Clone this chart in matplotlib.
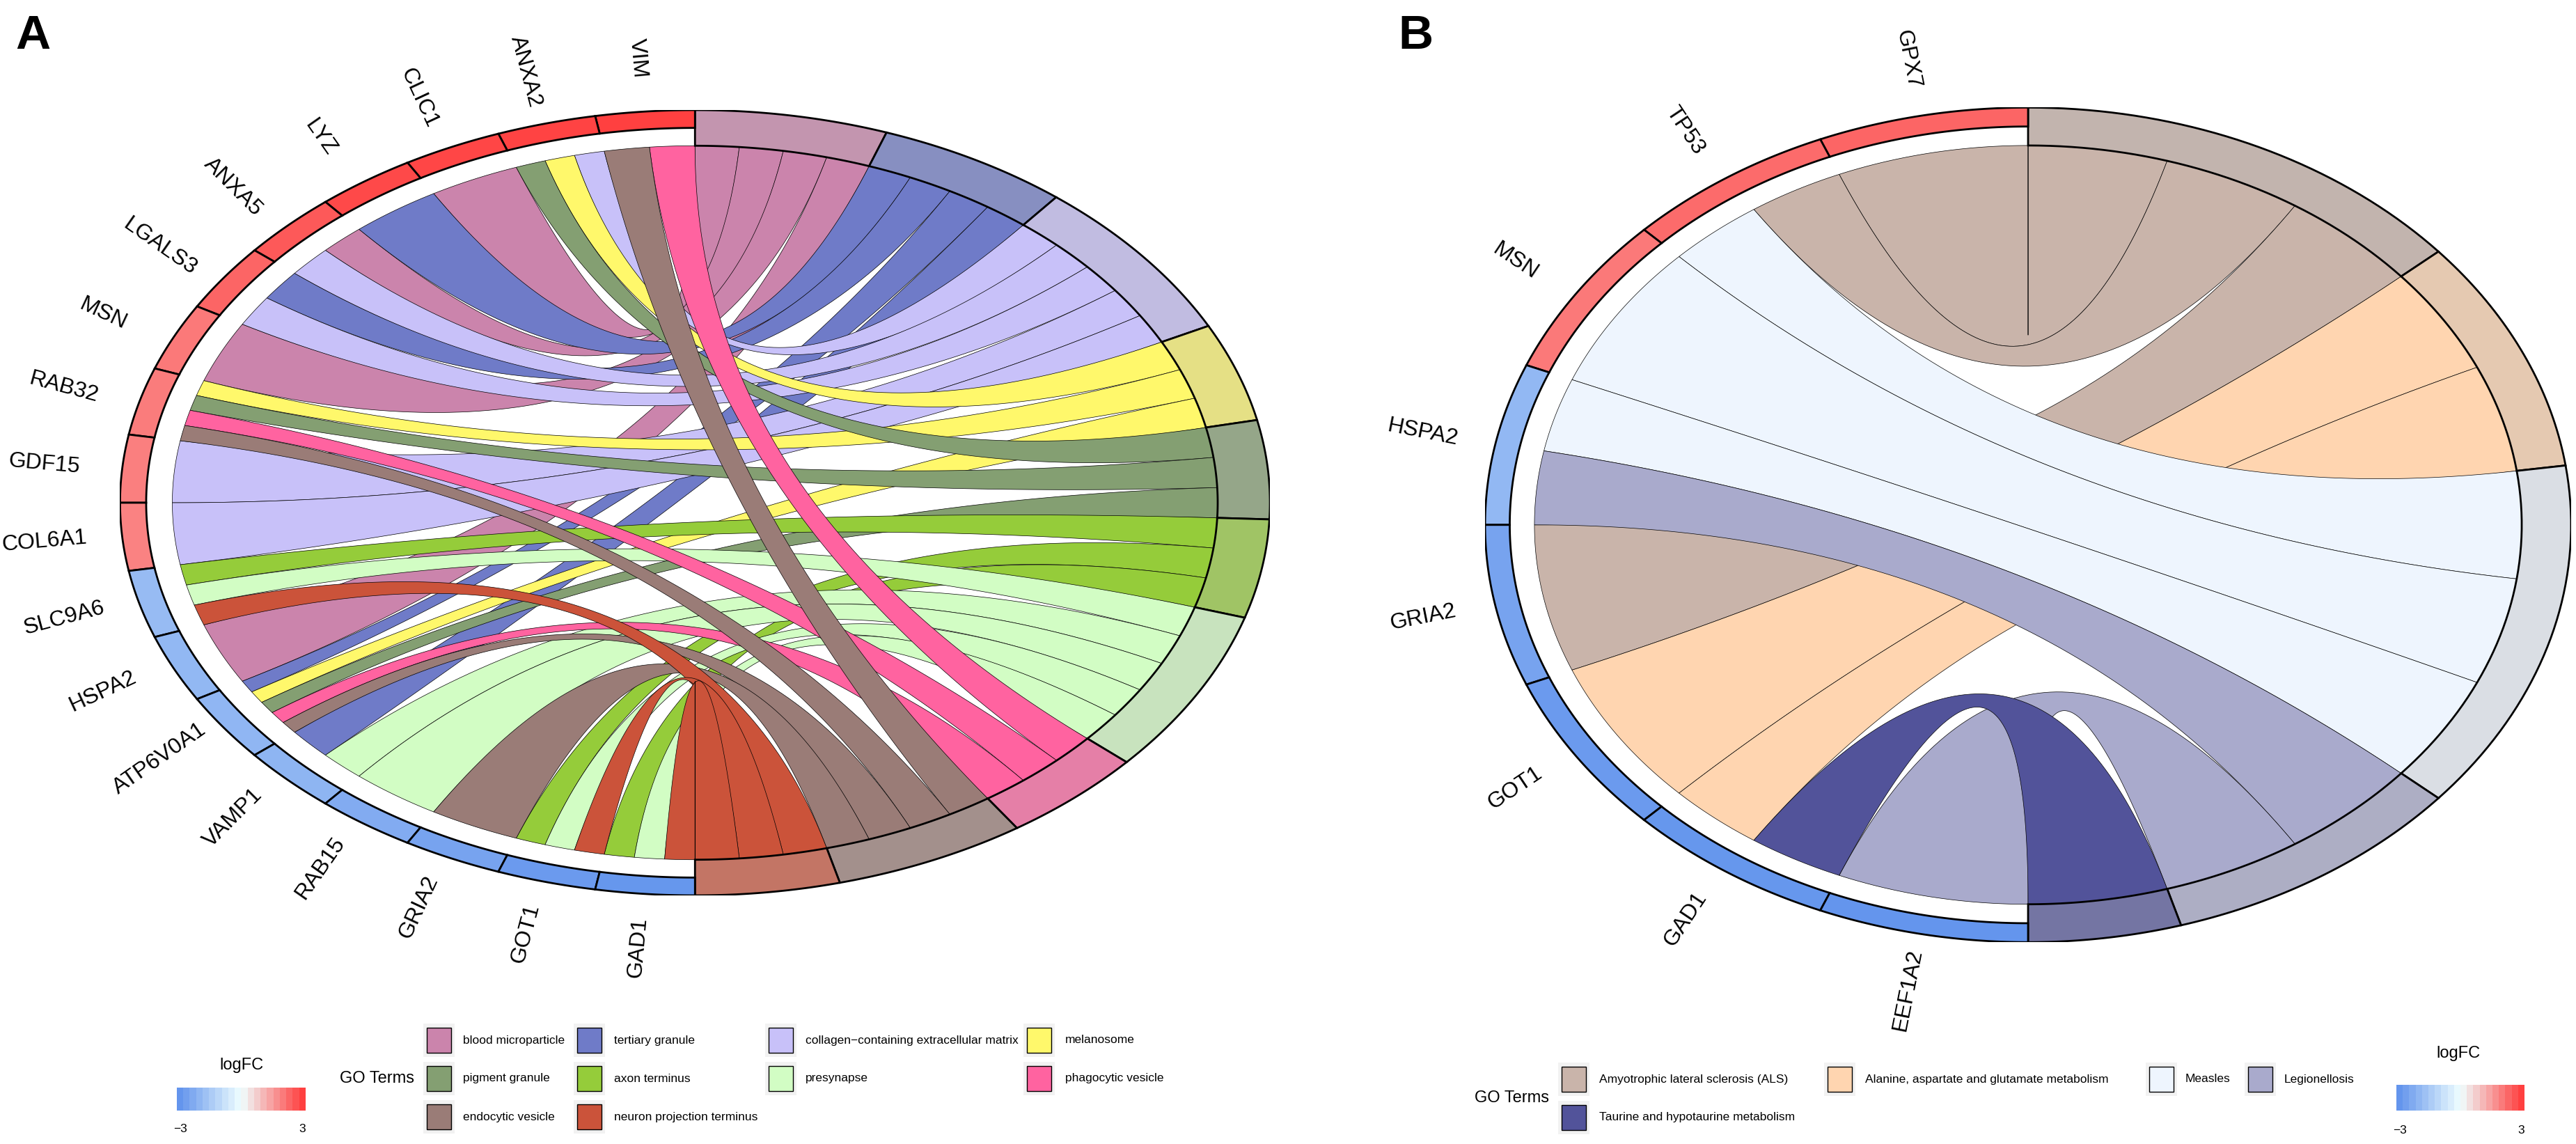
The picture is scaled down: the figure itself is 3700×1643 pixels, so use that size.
import numpy as np
import matplotlib
matplotlib.use("Agg")
import matplotlib.pyplot as plt
from matplotlib.patches import Polygon, Rectangle
from matplotlib.colors import LinearSegmentedColormap, Normalize, to_rgb

# ---------------- panel A data ----------------
genes_a = ["VIM", "ANXA2", "CLIC1", "LYZ", "ANXA5", "LGALS3", "MSN", "RAB32",
           "GDF15", "COL6A1", "SLC9A6", "HSPA2", "ATP6V0A1", "VAMP1", "RAB15",
           "GRIA2", "GOT1", "GAD1"]
logfc_a = [3.0, 2.95, 2.9, 2.85, 2.6, 2.4, 2.1, 2.05, 2.0, 1.95,
           -1.9, -2.0, -2.05, -2.1, -2.35, -2.6, -2.85, -2.95]
terms_a = ["blood microparticle", "tertiary granule",
           "collagen\u2212containing extracellular matrix", "melanosome",
           "pigment granule", "axon terminus", "presynapse",
           "phagocytic vesicle", "endocytic vesicle", "neuron projection terminus"]
term_cols_a = ["#CB84AC", "#6F7BC8", "#C8C1F9", "#FFF86B", "#849F72",
               "#95CC3A", "#D2FDC4", "#FF63A0", "#9A7C77", "#CB533A"]
# term indices linked to each gene (same order as genes_a)
members_a = [[7, 8], [2, 3, 4], [0], [1], [0, 2], [1, 2], [0], [3, 4, 7, 8],
             [2], [2], [5, 6, 9], [0], [1, 3, 4, 7, 8], [1, 6], [6], [8],
             [5, 6, 9], [5, 6, 9]]

# ---------------- panel B data ----------------
genes_b = ["GPX7", "TP53", "MSN", "HSPA2", "GRIA2", "GOT1", "GAD1", "EEF1A2"]
logfc_b = [2.4, 2.3, 2.1, -2.0, -2.6, -2.85, -2.95, -3.0]
terms_b = ["Amyotrophic lateral sclerosis (ALS)",
           "Alanine, aspartate and glutamate metabolism", "Measles",
           "Legionellosis", "Taurine and hypotaurine metabolism"]
term_cols_b = ["#C9B4AA", "#FFD5B0", "#EEF5FE", "#A9AACC", "#52539A"]
members_b = [[0], [0, 2], [2], [2, 3], [0], [1], [1, 4], [3]]

plt.rcParams["font.family"] = ["Liberation Sans", "DejaVu Sans"]

lfc_cmap = LinearSegmentedColormap.from_list(
    "lfc", ["#6495ED", "#F0FFFF", "#FF4040"])
lfc_norm = Normalize(-3, 3)


def blend(c, w=0.65, grey=0.706):
    r = np.array(to_rgb(c))
    return tuple(w * r + (1 - w) * grey)


def pol(a, r=1.0):
    t = np.radians(a)
    return np.array([r * np.cos(t), r * np.sin(t)])


def arc(r, a0, a1, n=40):
    t = np.radians(np.linspace(a0, a1, n))
    return np.column_stack([r * np.cos(t), r * np.sin(t)])


def bez(p0, p2, n=80):
    # quadratic bezier with the control point in the centre
    t = np.linspace(0, 1, n)[:, None]
    return (1 - t) ** 2 * p0 + t ** 2 * p2


def draw_chord(ax, genes, logfc, terms, term_cols, members):
    sizes = [sum(t in m for m in members) for t in range(len(terms))]
    unit = 180.0 / sum(sizes)
    gstep = 180.0 / len(genes)
    t_start = []
    a = 90.0
    for s in sizes:
        t_start.append(a)
        a -= s * unit

    slot = [0] * len(terms)
    links = []
    for gi, mem in enumerate(members):
        g0 = 90 + gi * gstep
        w = gstep / len(mem)
        for k, t in enumerate(mem):
            ga, gb = g0 + k * w, g0 + (k + 1) * w
            tb = t_start[t] - slot[t] * unit
            ta = tb - unit
            slot[t] += 1
            links.append((t, ga, gb, ta, tb))

    for t, ga, gb, ta, tb in sorted(links, key=lambda l: l[0]):
        pts = np.vstack([arc(1, ga, gb), bez(pol(gb), pol(ta)),
                         arc(1, ta, tb), bez(pol(tb), pol(ga))])
        ax.add_patch(Polygon(pts, closed=True, fc=term_cols[t],
                             ec="black", lw=0.5, zorder=2))

    # term blocks
    for t, s in enumerate(sizes):
        a1 = t_start[t]
        a0 = a1 - s * unit
        pts = np.vstack([arc(1.0, a0, a1), arc(1.1, a1, a0)])
        ax.add_patch(Polygon(pts, closed=True, fc=blend(term_cols[t]),
                             ec="black", lw=2.0, zorder=3))

    # gene ring + labels
    for gi, g in enumerate(genes):
        a0 = 90 + gi * gstep
        a1 = a0 + gstep
        pts = np.vstack([arc(1.05, a0, a1), arc(1.1, a1, a0)])
        ax.add_patch(Polygon(pts, closed=True,
                             fc=lfc_cmap(lfc_norm(logfc[gi])),
                             ec="black", lw=2.0, zorder=3))
        am = (a0 + a1) / 2
        x, y = pol(am, 1.25)
        ax.text(x, y, g, rotation=am - 180, rotation_mode="anchor",
                ha="center", va="center", fontsize=23)

    ax.set_xlim(-1.1, 1.1)
    ax.set_ylim(-1.1, 1.1)
    ax.axis("off")


W, H = 3700, 1643
fig = plt.figure(figsize=(W / 100, H / 100), dpi=100)

ax_a = fig.add_axes([0.0466, 0.2173, 0.4464, 0.6865])
draw_chord(ax_a, genes_a, logfc_a, terms_a, term_cols_a, members_a)
ax_b = fig.add_axes([0.5765, 0.1764, 0.4216, 0.7296])
draw_chord(ax_b, genes_b, logfc_b, terms_b, term_cols_b, members_b)

# overlay in pixel units for legends and panel letters
lax = fig.add_axes([0, 0, 1, 1], zorder=-1)
lax.set_xlim(0, W)
lax.set_ylim(H, 0)
lax.axis("off")

lax.text(22, 20, "A", fontsize=50, fontweight="bold", va="top", ha="left")
lax.text(2008, 20, "B", fontsize=50, fontweight="bold", va="top", ha="left")


def go_legend(terms, cols, rows_y, key_x, text_x, title_xy):
    lax.text(title_xy[0], title_xy[1], "GO Terms", fontsize=17,
             ha="right", va="center")
    for i, (name, c) in enumerate(zip(terms, cols)):
        r, k = divmod(i, 4)
        x, y = key_x[k], rows_y[r]
        lax.add_patch(Rectangle((x - 5, y - 24), 45, 48, fc="#F2F2F2",
                                ec="none"))
        lax.add_patch(Rectangle((x, y - 18), 35, 36, fc=c, ec="black",
                                lw=1.0))
        lax.text(text_x[k], y, name, fontsize=12.5, ha="left", va="center")


def lfc_legend(cx, x0, x1, ytitle, y0, y1, ylab):
    lax.text(cx, ytitle, "logFC", fontsize=17, ha="center", va="center")
    grad = np.linspace(-3, 3, 20)[None, :]
    lax.imshow(grad, cmap=lfc_cmap, norm=lfc_norm, aspect="auto",
               extent=(x0, x1, y1, y0), interpolation="nearest")
    lax.text(x0 + 5, ylab, "\u22123", fontsize=12.5, ha="center", va="center")
    lax.text(x1 - 5, ylab, "3", fontsize=12.5, ha="center", va="center")


go_legend(terms_a, term_cols_a, [1494, 1549, 1604],
          [613, 829, 1104, 1475], [665, 882, 1157, 1530], (595, 1549))
lfc_legend(347, 254, 439, 1530, 1562, 1595, 1622)

go_legend(terms_b, term_cols_b, [1550, 1605],
          [2243, 2625, 3087, 3229], [2297, 2679, 3139, 3281], (2225, 1577))
lfc_legend(3531, 3442, 3626, 1513, 1558, 1595, 1624)

lax.set_xlim(0, W)
lax.set_ylim(H, 0)

fig.savefig("out.png", dpi=100)
